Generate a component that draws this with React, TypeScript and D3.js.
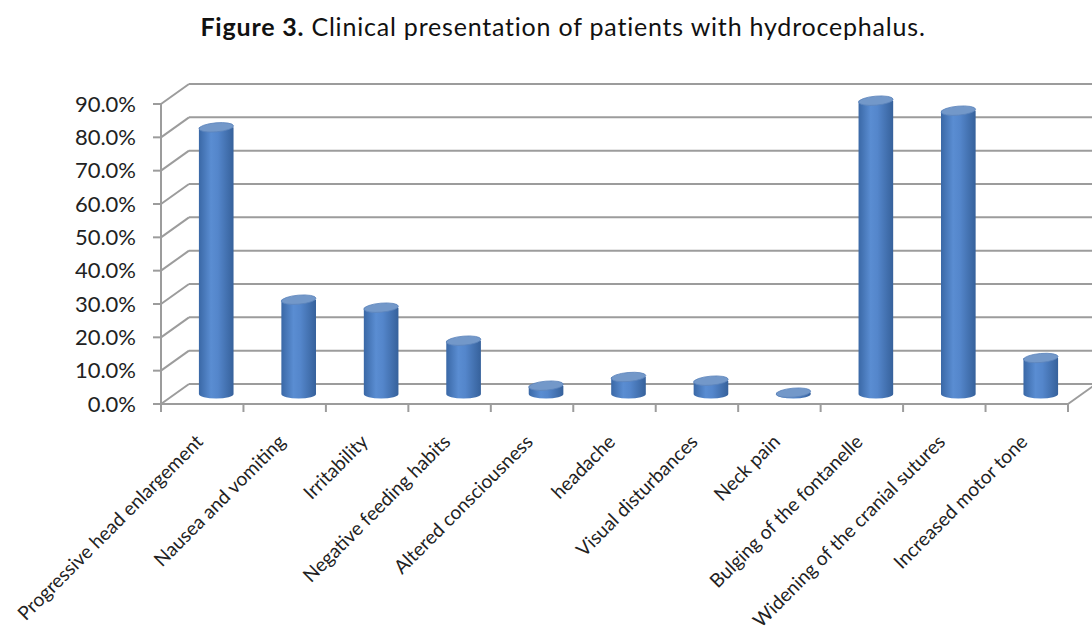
import { useEffect, useRef } from "react";
import * as d3 from "d3";

const categories = [
  "Progressive head enlargement",
  "Nausea and vomiting",
  "Irritability",
  "Negative feeding habits",
  "Altered consciousness",
  "headache",
  "Visual disturbances",
  "Neck pain",
  "Bulging of the fontanelle",
  "Widening of the cranial sutures",
  "Increased motor tone",
];

const values = [0.8, 0.283, 0.259, 0.16, 0.025, 0.051, 0.04, 0.004, 0.88, 0.85, 0.108];

const yTicks = [0, 0.1, 0.2, 0.3, 0.4, 0.5, 0.6, 0.7, 0.8, 0.9];

const FONT = "Lato, 'Open Sans', sans-serif";

export default function App() {
  const ref = useRef<SVGSVGElement | null>(null);

  useEffect(() => {
    if (!ref.current) return;

    const width = 1092;
    const height = 634;
    const depth = { dx: 28, dy: -20 };
    const grid = "#9c9c9c";

    const svg = d3.select(ref.current).attr("viewBox", `0 0 ${width} ${height}`);
    svg.selectAll("*").remove();

    const x = d3.scaleBand().domain(categories).range([161, 1068]);
    const y = d3.scaleLinear().domain([0, 0.9]).range([404, 104]);

    /* ---------------- GRADIENT ---------------- */

    const defs = svg.append("defs");
    const grad = defs.append("linearGradient").attr("id", "cyl").attr("x1", 0).attr("x2", 1).attr("y1", 0).attr("y2", 0);
    [
      [0, "#3a68a6"],
      [0.35, "#5a8dd2"],
      [0.55, "#5486cb"],
      [1, "#36619b"],
    ].forEach(([o, c]) => grad.append("stop").attr("offset", o as number).attr("stop-color", c as string));

    /* ---------------- TITLE ---------------- */

    const title = svg.append("text")
      .attr("x", 563)
      .attr("y", 36)
      .attr("text-anchor", "middle")
      .attr("font-family", FONT)
      .attr("font-size", 25)
      .attr("letter-spacing", 0.8)
      .attr("fill", "#111");
    title.append("tspan").attr("font-weight", "bold").text("Figure 3.");
    title.append("tspan").text(" Clinical presentation of patients with hydrocephalus.");

    /* ---------------- WALLS / GRID ---------------- */

    const g = svg.append("g").attr("stroke", grid).attr("stroke-width", 2).attr("fill", "none");
    const x0 = x.range()[0];
    const x1 = x.range()[1];

    yTicks.forEach(t => {
      g.append("line")
        .attr("x1", x0).attr("y1", y(t))
        .attr("x2", x0 + depth.dx).attr("y2", y(t) + depth.dy);
      g.append("line")
        .attr("x1", x0 + depth.dx).attr("y1", y(t) + depth.dy)
        .attr("x2", x1 + depth.dx).attr("y2", y(t) + depth.dy);
      g.append("line")
        .attr("x1", x0 - 8).attr("y1", y(t))
        .attr("x2", x0).attr("y2", y(t));
    });

    g.append("line").attr("x1", x0).attr("x2", x0).attr("y1", y(0.9)).attr("y2", y(0) + 1);
    g.append("line").attr("x1", x0).attr("x2", x1).attr("y1", y(0)).attr("y2", y(0));
    g.append("line")
      .attr("x1", x1).attr("y1", y(0))
      .attr("x2", x1 + depth.dx).attr("y2", y(0) + depth.dy);

    const edges = categories.map(c => x(c)!).concat([x1]);
    edges.forEach(e => {
      g.append("line").attr("x1", e).attr("x2", e).attr("y1", y(0)).attr("y2", y(0) + 8);
    });

    /* ---------------- Y LABELS ---------------- */

    svg.append("g")
      .selectAll("text")
      .data(yTicks)
      .enter()
      .append("text")
      .attr("x", 136)
      .attr("y", d => y(d))
      .attr("dy", "0.35em")
      .attr("text-anchor", "end")
      .attr("font-family", FONT)
      .attr("font-size", 22)
      .attr("fill", "#222")
      .text(d => d3.format(".1%")(d));

    /* ---------------- CYLINDERS ---------------- */

    const rx = x.bandwidth() * 0.21;
    const ry = 4.5;
    const mid = (v: number) => y(v) + depth.dy / 2;

    const bars = svg.append("g")
      .selectAll("g")
      .data(values)
      .enter()
      .append("g");

    bars.append("path")
      .attr("fill", "url(#cyl)")
      .attr("d", (d, i) => {
        const cx = x(categories[i])! + x.bandwidth() / 2 + depth.dx / 2;
        const top = mid(d);
        const bot = mid(0);
        return `M${cx - rx},${top} L${cx - rx},${bot} A${rx},${ry} 0 0 0 ${cx + rx},${bot} L${cx + rx},${top} Z`;
      });

    bars.append("ellipse")
      .attr("cx", (_, i) => x(categories[i])! + x.bandwidth() / 2 + depth.dx / 2)
      .attr("cy", d => mid(d))
      .attr("rx", rx)
      .attr("ry", ry)
      .attr("fill", "#7398c9")
      .attr("stroke", "#5c84bb")
      .attr("stroke-width", 0.8)
      .attr("transform", (d, i) => {
        const cx = x(categories[i])! + x.bandwidth() / 2 + depth.dx / 2;
        return `rotate(-5, ${cx}, ${mid(d)})`;
      });

    /* ---------------- CATEGORY LABELS ---------------- */

    svg.append("g")
      .selectAll("text")
      .data(categories)
      .enter()
      .append("text")
      .attr("transform", d => `translate(${x(d)! + x.bandwidth() / 2 + 2}, 443) rotate(-45)`)
      .attr("text-anchor", "end")
      .attr("font-family", FONT)
      .attr("font-size", 19.2)
      .attr("fill", "#222")
      .text(d => d);
  }, []);

  return (
    <svg
      ref={ref}
      width={1092}
      height={634}
      style={{ position: "absolute", left: 0, top: 0, background: "#fff" }}
    />
  );
}
